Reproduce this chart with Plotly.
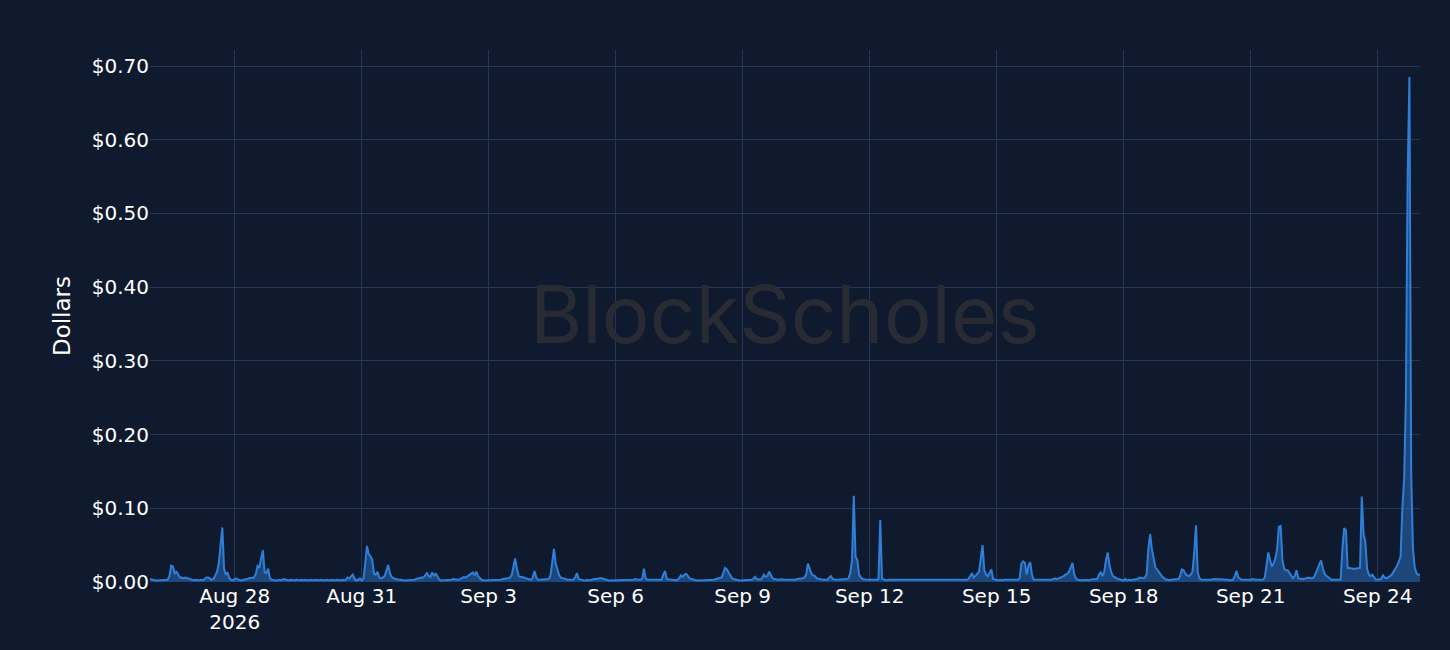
import pandas as pd
import plotly.graph_objects as go

start_time = "2026-08-26 00:00"
# hourly values (dollars), one row per day, Aug 26 .. Sep 24, plus final Sep 25 00:00
day_values = [
    [0.004,0.003,0.003,0.002,0.002,0.002,0.002,0.002,0.002,0.002,0.003,0.008,0.022,0.021,0.012,0.014,0.009,0.006,0.006,0.005,0.006,0.005,0.005,0.003],  # Aug 26
    [0.003,0.002,0.003,0.002,0.002,0.003,0.002,0.004,0.006,0.006,0.005,0.003,0.004,0.008,0.014,0.025,0.050,0.074,0.018,0.010,0.013,0.005,0.003,0.002],  # Aug 27
    [0.004,0.005,0.003,0.002,0.002,0.003,0.003,0.004,0.005,0.005,0.005,0.006,0.011,0.022,0.020,0.030,0.043,0.013,0.012,0.018,0.005,0.003,0.002,0.002],  # Aug 28
    [0.002,0.003,0.002,0.003,0.004,0.003,0.002,0.002,0.003,0.002,0.002,0.003,0.002,0.002,0.003,0.002,0.003,0.002,0.002,0.003,0.002,0.002,0.003,0.002],  # Aug 29
    [0.002,0.003,0.002,0.002,0.003,0.002,0.002,0.003,0.002,0.002,0.003,0.002,0.002,0.003,0.002,0.003,0.006,0.005,0.007,0.010,0.004,0.002,0.003,0.005],  # Aug 30
    [0.002,0.004,0.025,0.049,0.038,0.035,0.030,0.011,0.010,0.014,0.006,0.005,0.006,0.008,0.015,0.023,0.012,0.007,0.005,0.004,0.004,0.003,0.003,0.002],  # Aug 31
    [0.002,0.002,0.002,0.003,0.002,0.002,0.003,0.004,0.005,0.005,0.006,0.006,0.009,0.012,0.008,0.007,0.013,0.008,0.012,0.008,0.003,0.002,0.002,0.002],  # Sep 1
    [0.002,0.002,0.003,0.003,0.004,0.003,0.003,0.003,0.004,0.006,0.007,0.006,0.008,0.010,0.011,0.013,0.009,0.014,0.008,0.005,0.003,0.002,0.002,0.002],  # Sep 2
    [0.002,0.002,0.003,0.002,0.002,0.003,0.003,0.003,0.004,0.004,0.004,0.005,0.006,0.009,0.020,0.032,0.018,0.008,0.007,0.007,0.006,0.005,0.004,0.003],  # Sep 3
    [0.003,0.006,0.015,0.006,0.003,0.003,0.003,0.003,0.004,0.004,0.004,0.008,0.030,0.045,0.025,0.015,0.009,0.006,0.005,0.004,0.003,0.003,0.003,0.003],  # Sep 4
    [0.003,0.006,0.012,0.004,0.003,0.003,0.002,0.002,0.003,0.002,0.003,0.003,0.004,0.004,0.005,0.005,0.005,0.004,0.004,0.003,0.002,0.002,0.002,0.002],  # Sep 5
    [0.002,0.002,0.003,0.002,0.003,0.003,0.002,0.003,0.003,0.002,0.003,0.004,0.003,0.003,0.003,0.004,0.018,0.005,0.003,0.003,0.003,0.003,0.002,0.002],  # Sep 6
    [0.002,0.002,0.003,0.010,0.015,0.004,0.003,0.003,0.003,0.002,0.002,0.003,0.005,0.009,0.007,0.010,0.011,0.008,0.005,0.004,0.003,0.002,0.002,0.002],  # Sep 7
    [0.002,0.002,0.002,0.003,0.002,0.003,0.002,0.003,0.003,0.004,0.005,0.005,0.006,0.012,0.019,0.017,0.013,0.008,0.005,0.004,0.003,0.002,0.002,0.002],  # Sep 8
    [0.002,0.002,0.002,0.003,0.002,0.003,0.004,0.007,0.004,0.003,0.003,0.005,0.010,0.007,0.008,0.014,0.009,0.005,0.004,0.003,0.003,0.003,0.004,0.003],  # Sep 9
    [0.003,0.002,0.003,0.002,0.003,0.003,0.003,0.004,0.004,0.004,0.005,0.006,0.010,0.025,0.018,0.011,0.009,0.008,0.005,0.004,0.003,0.003,0.003,0.003],  # Sep 10
    [0.003,0.006,0.008,0.004,0.003,0.003,0.003,0.003,0.003,0.003,0.003,0.004,0.005,0.012,0.030,0.117,0.034,0.030,0.010,0.006,0.004,0.003,0.003,0.003],  # Sep 11
    [0.003,0.003,0.002,0.003,0.003,0.004,0.084,0.004,0.003,0.003,0.002,0.003,0.003,0.002,0.003,0.003,0.002,0.003,0.003,0.002,0.003,0.002,0.003,0.003],  # Sep 12
    [0.002,0.003,0.003,0.002,0.003,0.002,0.003,0.003,0.002,0.003,0.003,0.002,0.003,0.003,0.002,0.003,0.003,0.002,0.003,0.002,0.003,0.003,0.002,0.003],  # Sep 13
    [0.003,0.003,0.002,0.003,0.003,0.003,0.003,0.003,0.004,0.008,0.012,0.006,0.008,0.011,0.014,0.030,0.050,0.016,0.010,0.008,0.012,0.017,0.004,0.003],  # Sep 14
    [0.003,0.002,0.003,0.002,0.003,0.003,0.002,0.003,0.003,0.003,0.002,0.003,0.003,0.005,0.025,0.028,0.026,0.010,0.022,0.027,0.010,0.003,0.003,0.002],  # Sep 15
    [0.002,0.002,0.003,0.002,0.002,0.003,0.003,0.003,0.004,0.005,0.004,0.005,0.005,0.006,0.008,0.010,0.011,0.014,0.020,0.026,0.010,0.005,0.003,0.002],  # Sep 16
    [0.002,0.003,0.002,0.003,0.002,0.003,0.003,0.003,0.003,0.004,0.010,0.013,0.008,0.014,0.030,0.040,0.022,0.013,0.008,0.006,0.005,0.004,0.003,0.002],  # Sep 17
    [0.002,0.004,0.002,0.003,0.002,0.003,0.003,0.003,0.004,0.006,0.005,0.005,0.006,0.010,0.045,0.065,0.045,0.030,0.020,0.017,0.013,0.010,0.007,0.005],  # Sep 18
    [0.003,0.003,0.002,0.003,0.003,0.003,0.003,0.004,0.008,0.017,0.016,0.011,0.009,0.008,0.010,0.014,0.040,0.077,0.013,0.005,0.003,0.003,0.003,0.002],  # Sep 19
    [0.002,0.003,0.003,0.004,0.004,0.003,0.003,0.004,0.003,0.003,0.003,0.003,0.002,0.003,0.003,0.008,0.015,0.006,0.004,0.003,0.003,0.003,0.002,0.003],  # Sep 20
    [0.003,0.004,0.003,0.003,0.003,0.003,0.003,0.003,0.006,0.025,0.040,0.030,0.021,0.025,0.032,0.045,0.075,0.076,0.030,0.018,0.016,0.016,0.012,0.008],  # Sep 21
    [0.005,0.008,0.016,0.005,0.004,0.004,0.004,0.005,0.006,0.006,0.005,0.005,0.007,0.012,0.018,0.025,0.029,0.018,0.011,0.008,0.006,0.004,0.003,0.003],  # Sep 22
    [0.003,0.003,0.002,0.003,0.045,0.073,0.070,0.019,0.019,0.018,0.018,0.018,0.018,0.019,0.019,0.116,0.065,0.055,0.018,0.010,0.008,0.010,0.006,0.003],  # Sep 23
    [0.003,0.003,0.004,0.009,0.006,0.005,0.006,0.008,0.010,0.014,0.018,0.022,0.028,0.035,0.100,0.140,0.250,0.550,0.685,0.150,0.045,0.020,0.012,0.010],  # Sep 24
]
final_value = [0.010]  # Sep 25 00:00

y_tick_values = [0.0, 0.1, 0.2, 0.3, 0.4, 0.5, 0.6, 0.7]
y_tick_labels = ["$0.00", "$0.10", "$0.20", "$0.30", "$0.40", "$0.50", "$0.60", "$0.70"]

values = [v for day in day_values for v in day] + final_value
times = pd.date_range(start=start_time, periods=len(values), freq="h")

BG = "#101a2e"
GRID = "#26355a"
FONT = "DejaVu Sans, Verdana, sans-serif"

fig = go.Figure()
fig.add_trace(go.Scatter(
    x=times, y=values, mode="lines",
    line=dict(color="#2f7fd8", width=2),
    fill="tozeroy", fillcolor="rgba(47,127,216,0.45)",
    hoverinfo="x+y", showlegend=False,
))

fig.add_annotation(
    text="BlockScholes", xref="paper", yref="paper", x=0.5, y=0.505,
    showarrow=False,
    font=dict(family="Inter, Lato, sans-serif", size=80, color="#282b33", weight=400),
)

fig.update_layout(
    width=1450, height=650,
    paper_bgcolor=BG, plot_bgcolor=BG,
    margin=dict(l=150, r=30, t=50, b=68),
    font=dict(family=FONT, color="#ffffff", size=20),
    xaxis=dict(
        range=[times[0], times[-1]],
        showgrid=True, gridcolor=GRID, gridwidth=1,
        tick0="2026-08-28", dtick=3 * 86400000,
        zeroline=False, showline=False,
        tickfont=dict(family=FONT, size=20, color="#ffffff"),
    ),
    yaxis=dict(
        range=[0, 0.7217],
        tickvals=y_tick_values, ticktext=y_tick_labels,
        showgrid=True, gridcolor=GRID, gridwidth=1,
        zeroline=False, showline=False,
        title=dict(text="Dollars", font=dict(family=FONT, size=23, color="#ffffff"), standoff=14),
        tickfont=dict(family=FONT, size=20, color="#ffffff"),
    ),
)

fig.write_html(
    "out.html",
    config={"displayModeBar": False},
    post_script="document.body.style.margin='0';document.body.style.background='#101a2e';",
)
